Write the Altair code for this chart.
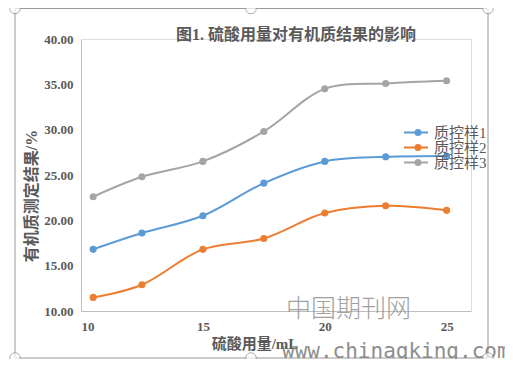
import altair as alt
import pandas as pd

x_vals = [10.5, 12.5, 15, 17.5, 20, 22.5, 25]
s1 = [16.8, 18.6, 20.5, 24.1, 26.5, 27.0, 27.1]
s2 = [11.5, 12.9, 16.8, 18.0, 20.8, 21.6, 21.1]
s3 = [22.6, 24.8, 26.5, 29.8, 34.5, 35.1, 35.4]
names = ["质控样1", "质控样2", "质控样3"]
colors = ["#5B9BD5", "#ED7D31", "#A5A5A5"]
x_ticks = [10, 15, 20, 25]
y_ticks = [10, 15, 20, 25, 30, 35, 40]

pnames = [n + " " for n in names]
rows = []
for name, pn, ser in zip(names, pnames, [s1, s2, s3]):
    for xv, yv in zip(x_vals, ser):
        rows.append({"x": xv, "y": yv, "s": name, "sp": pn})
df = pd.DataFrame(rows)

SERIF = "Liberation Serif, Noto Sans CJK SC"
TXT = "#595959"

xs = alt.Scale(domain=[10, 26], nice=False, zero=False)
ys = alt.Scale(domain=[10, 40], nice=False, zero=False)
LX, LY = 322, 87
col = alt.Color("s:N", scale=alt.Scale(domain=names, range=colors),
                legend=alt.Legend(title=None, orient="none", legendX=LX, legendY=LY,
                                  labelFont=SERIF, labelFontSize=15, labelColor=TXT,
                                  symbolType="stroke", symbolSize=576, symbolStrokeWidth=2,
                                  clipHeight=13, rowPadding=-5, labelOffset=5, padding=0))
fil = alt.Fill("sp:N", scale=alt.Scale(domain=pnames, range=colors),
               legend=alt.Legend(title=None, orient="none", legendX=LX + 12 - 4.5, legendY=LY,
                                 labelFontSize=15, labelOpacity=0, labelColor="white",
                                 symbolType="circle", symbolSize=49, symbolStrokeWidth=0,
                                 symbolOpacity=1, clipHeight=13, rowPadding=-5, padding=0))

base = alt.Chart(df)
lines = base.mark_line(interpolate="catmull-rom", strokeWidth=2).encode(
    x=alt.X("x:Q", scale=xs,
            axis=alt.Axis(values=x_ticks, title=None, grid=False, ticks=False, domainColor="#BFBFBF",
                          labelFont=SERIF, labelFontSize=13, labelFontWeight="bold", labelColor=TXT,
                          labelPadding=9)),
    y=alt.Y("y:Q", scale=ys,
            axis=alt.Axis(values=y_ticks, format=".2f", title=None, grid=False, ticks=False,
                          domainColor="#BFBFBF", labelFont=SERIF, labelFontSize=13,
                          labelFontWeight="bold", labelColor=TXT, labelPadding=8)),
    color=col,
)
pts = base.mark_point(filled=True, size=50, opacity=1, strokeWidth=0).encode(
    x=alt.X("x:Q", scale=xs), y=alt.Y("y:Q", scale=ys),
    fill=fil,
)

anno = pd.DataFrame({"t": ["图1. 硫酸用量对有机质结果的影响"]})
title = alt.Chart(anno).mark_text(font=SERIF, fontSize=16, fontWeight="bold", color=TXT,
                                  baseline="middle", align="center").encode(
    text="t:N", x=alt.value(215), y=alt.value(-4))
ytitle = alt.Chart(pd.DataFrame({"t": ["有机质测定结果/%"]})).mark_text(
    font=SERIF, fontSize=16, fontWeight="bold", color=TXT, angle=270, baseline="middle",
    align="center").encode(text="t:N", x=alt.value(-49), y=alt.value(157))
xtitle = alt.Chart(pd.DataFrame({"t": ["硫酸用量/mL"]})).mark_text(
    font=SERIF, fontSize=15, fontWeight="bold", color=TXT, baseline="middle",
    align="center").encode(text="t:N", x=alt.value(174), y=alt.value(305))
wm1 = alt.Chart(pd.DataFrame({"t": ["中国期刊网"]})).mark_text(
    font="Noto Sans CJK SC", fontSize=25, color="#8a8a8a", opacity=0.8, baseline="middle",
    align="left", fontWeight=300).encode(text="t:N", x=alt.value(205), y=alt.value(270))
wm2 = alt.Chart(pd.DataFrame({"t": ["www.chinaqking.com"]})).mark_text(
    font="DejaVu Sans Mono", fontSize=21, color="#7a7a7a", opacity=0.85, baseline="middle",
    align="left").encode(text="t:N", x=alt.value(201), y=alt.value(313))
frame = alt.Chart(pd.DataFrame({"a": [0]})).mark_rect(fill=None, stroke="#9a9a9a", strokeWidth=1).encode(
    x=alt.value(-66), x2=alt.value(407), y=alt.value(-30.5), y2=alt.value(319))
hx = [-66, 170, 407, -66, 170, 407]
hy = [-30.5, -30.5, -30.5, 319, 319, 319]
handles = alt.Chart(pd.DataFrame({"a": [0]})).mark_point(
    shape="circle", size=110, filled=True, fill="white", stroke="#8a8a8a", strokeWidth=1)
hl = [handles.encode(x=alt.value(a), y=alt.value(b)) for a, b in zip(hx, hy)]

chart = alt.layer(frame, lines, pts, title, ytitle, xtitle, wm1, wm2, *hl).properties(
    width=390, height=272,
    padding={"left": 73, "top": 31, "right": 34, "bottom": 48},
    autosize=alt.AutoSizeParams(type="none"),
).configure_view(stroke=None).configure(background="white")

chart.save("out.html", embed_options={"renderer": "svg", "actions": False})
